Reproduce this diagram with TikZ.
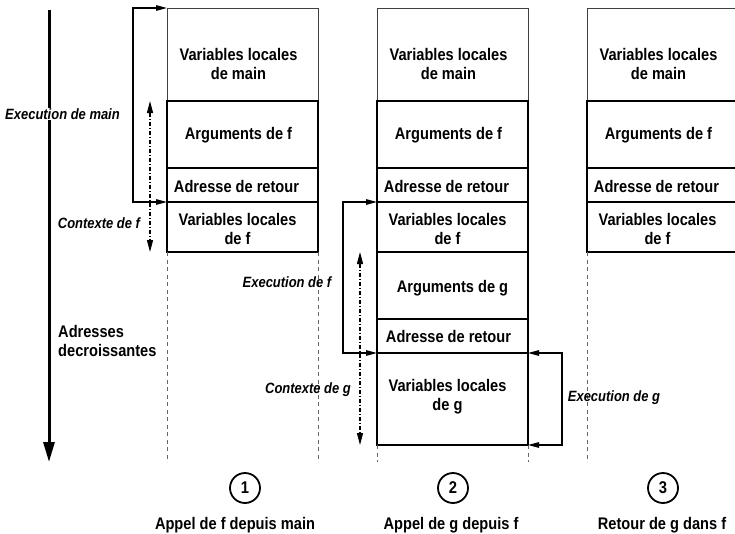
\documentclass[tikz,border=0pt]{standalone}
\usepackage{fontspec}
\setmainfont[FakeStretch=0.87]{Liberation Sans}
\usetikzlibrary{arrows.meta}
\begin{document}
\begin{tikzpicture}[x=1pt,y=-1pt,
  thinbox/.style={draw=black!75, line width=0.8pt, minimum width=151pt, inner sep=0pt, outer sep=0pt, rectangle},
  thickbox/.style={draw=black, line width=1.8pt, minimum width=151pt, inner sep=0pt, outer sep=0pt, rectangle},
  boxtext/.style={font=\fontsize{16.8}{19}\selectfont\bfseries, align=center, inner sep=0pt},
  itlabel/.style={font=\fontsize{14.9}{17}\selectfont\bfseries\itshape, inner sep=1pt},
  dashline/.style={draw=black!60, line width=0.8pt, dash pattern=on 4pt off 3.5pt},
  bracket/.style={line width=1.3pt, {Triangle[length=11pt,width=5.5pt]}-{Triangle[length=11pt,width=5.5pt]}},
  ctxarrow/.style={line width=1.3pt, dash pattern=on 4pt off 2pt on 1pt off 2pt, {Triangle[length=12pt,width=6pt]}-{Triangle[length=12pt,width=6pt]}},
  mainarrow/.style={line width=3pt, -{Triangle[length=20pt,width=11pt]}},
  circ/.style={circle, draw, line width=1.8pt, minimum size=30pt, inner sep=0pt, font=\fontsize{17}{19}\selectfont\bfseries},
  caption/.style={font=\fontsize{16.8}{19}\selectfont\bfseries, inner sep=0pt}
]
\clip (0,0) rectangle (735,533);
\fill[white] (0,0) rectangle (735,533);

% stack boxes, three columns
\foreach \c/\x in {1/242.5,2/452.5,3/662.5}{
  \node[thinbox, minimum height=93pt] (main\c) at (\x,54.5) {};
  \node[thickbox, minimum height=67pt] (argf\c) at (\x,134.5) {};
  \node[thickbox, minimum height=34pt] (retf\c) at (\x,185) {};
  \node[thickbox, minimum height=50pt] (varf\c) at (\x,227) {};
  \node[boxtext] (tmain\c) at ([shift={(-4,9)}]main\c.center) {Variables locales\\de main};
  \node[boxtext] (targf\c) at ([shift={(-4,1)}]argf\c.center) {Arguments de f};
  \node[boxtext] (tretf\c) at ([shift={(-6,1)}]retf\c.center) {Adresse de retour};
  \node[boxtext] (tvarf\c) at ([shift={(-5,2)}]varf\c.center) {Variables locales\\de f};
}
\node[thickbox, minimum height=67pt] (argg2) at (452.5,285.5) {};
\node[thickbox, minimum height=34pt] (retg2) at (452.5,336) {};
\node[thickbox, minimum height=92pt] (varg2) at (452.5,399) {};
\node[boxtext] (targg2) at ([shift={(0,3)}]argg2.center) {Arguments de g};
\node[boxtext] (tretg2) at ([shift={(-4,0)}]retg2.center) {Adresse de retour};
\node[boxtext] (tvarg2) at ([shift={(-5,-2)}]varg2.center) {Variables locales\\de g};

% dashed continuation lines
\draw[dashline] (varf1.south west) -- ++(0,210);
\draw[dashline] (varf1.south east) -- ++(0,210);
\draw[dashline] (varg2.south west) -- ++(0,17);
\draw[dashline] (varg2.south east) -- ++(0,17);
\draw[dashline] (varf3.south west) -- ++(0,210);
\draw[dashline] (varf3.south east) -- ++(0,210);

% main decreasing-address arrow
\coordinate (atop) at (49,10);
\coordinate (abot) at (49,462);
\draw[mainarrow] (atop) -- (abot);
\node[itlabel, fill=white, inner ysep=1pt] (lexmain) at (62.5,114) {Execution de main};
\node[boxtext, align=left, anchor=west] (laddr) at (58,341) {Adresses\\decroissantes};

% execution brackets
\draw[bracket] (main1.north west) -- ++(-34,0) |- (retf1.south west);
\draw[bracket] (varf2.north west) -- ++(-34,0) |- (varg2.north west);
\draw[bracket] (varg2.north east) -- ++(34,0) |- (varg2.south east);

% context arrows
\draw[ctxarrow] ([xshift=-17pt]argf1.north west) -- ([xshift=-17pt]varf1.south west);
\draw[ctxarrow] ([xshift=-17pt]argg2.north west) -- ([xshift=-17pt]varg2.south west);

% italic labels
\node[itlabel] (lctxf) at (99,223) {Contexte de f};
\node[itlabel] (lexf) at (287,282) {Execution de f};
\node[itlabel] (lctxg) at (308,390) {Contexte de g};
\node[itlabel] (lexg) at (614,398) {Execution de g};

% step numbers and captions
\node[circ] (n1) at (245,488) {1};
\node[circ] (n2) at (453,488) {2};
\node[circ] (n3) at (663,488) {3};
\node[caption] (cap1) at (235,525) {Appel de f depuis main};
\node[caption] (cap2) at (451,525) {Appel de g depuis f};
\node[caption] (cap3) at (662,525) {Retour de g dans f};
\end{tikzpicture}
\end{document}
